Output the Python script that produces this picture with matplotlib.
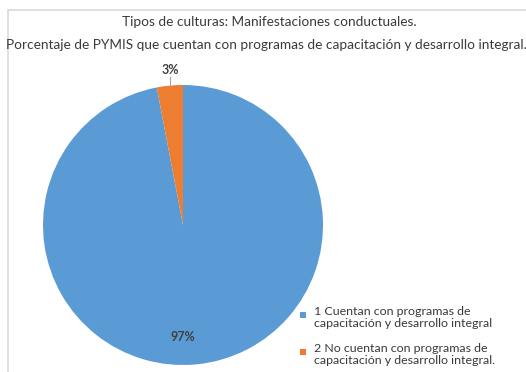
import matplotlib.pyplot as plt
from matplotlib.patches import Rectangle

plt.rcParams['font.family'] = ['Lato', 'DejaVu Sans']

# datos del gráfico
categorias = [
    "1 Cuentan con programas de\ncapacitación y desarrollo integral",
    "2 No cuentan con programas de\ncapacitación y desarrollo integral.",
]
porcentajes = [97, 3]
colores = ["#5B9BD5", "#ED7D31"]
titulo = ("Tipos de culturas: Manifestaciones conductuales.\n"
          "Porcentaje de PYMIS que cuentan con programas de capacitación y desarrollo integral.")

W, H = 526, 372
fig = plt.figure(figsize=(W / 100, H / 100), dpi=100)

# marco del área del gráfico
fig.patches.append(Rectangle((8 / W, -0.1), 1.2, (H - 10) / H + 0.1,
                             transform=fig.transFigure, fill=False,
                             edgecolor="#d9d9d9", linewidth=1.2))

fig.text(269 / W, 1 - 22 / H, titulo.split("\n")[0], ha="center", va="center",
         fontsize=9.8, color="#3a3a3a")
fig.text(266 / W, 1 - 45 / H, titulo.split("\n")[1], ha="center", va="center",
         fontsize=9.8, color="#3a3a3a")

# pastel: centro (183, 225) px, radio 140 px
cx, cy, r = 183, 225, 140
ax = fig.add_axes([(cx - r) / W, 1 - (cy + r) / H, 2 * r / W, 2 * r / H])
ax.pie(porcentajes, colors=colores, startangle=90, counterclock=False,
       radius=1, wedgeprops=dict(linewidth=0))
ax.set_xlim(-1, 1)
ax.set_ylim(-1, 1)
ax.set_aspect("auto")
ax.axis("off")

ax.text(0, -0.8, f"{porcentajes[0]}%", ha="center", va="center",
        fontsize=9, fontweight="bold", color="#404040")
ax.text(-0.09, 1.11, f"{porcentajes[1]}%", ha="center", va="center",
        fontsize=9, fontweight="bold", color="#404040", clip_on=False)
ax.plot([-0.09, -0.09], [1.06, 0.995], color="#a6a6a6", linewidth=0.8,
        clip_on=False)

# leyenda
y_items = [312, 349]
for etiqueta, color, y in zip(categorias, colores, y_items):
    fig.patches.append(Rectangle((300 / W, 1 - (y + 6) / H), 6 / W, 6 / H,
                                 transform=fig.transFigure, facecolor=color,
                                 edgecolor="none"))
    fig.text(314 / W, 1 - (y - 6) / H, etiqueta, ha="left", va="top",
             fontsize=8.9, color="#3a3a3a", linespacing=1.1)

fig.savefig("out.png", dpi=100)
